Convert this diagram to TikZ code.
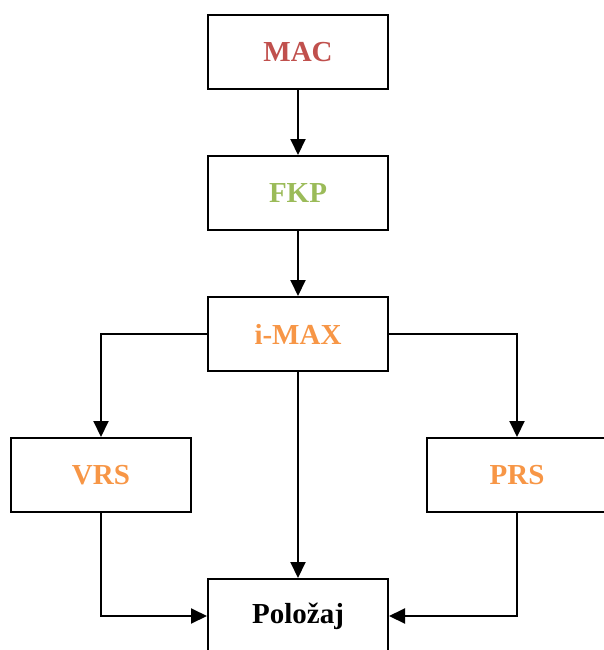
\documentclass[tikz,border=0pt]{standalone}
\usepackage{fontspec}
\setmainfont{Liberation Serif}
\usetikzlibrary{positioning,arrows.meta}
\definecolor{macred}{HTML}{C0504D}
\definecolor{fkpgreen}{HTML}{9BBB59}
\definecolor{rsorange}{HTML}{F79646}
\tikzset{box/.style={draw,line width=2pt,minimum width=180pt,minimum height=74pt,
    font=\fontsize{29}{34}\selectfont\bfseries}}

\begin{document}
\begin{tikzpicture}[node distance=65pt,>={Triangle[length=16pt,width=15pt]},
    link/.style={->,line width=2pt}]
        \useasboundingbox (0,0) rectangle (604pt,-650pt);
        \node[box,text=macred] (mac) at (298pt,-52pt) {MAC};
        \node[box,text=fkpgreen,below=of mac] (fkp) {FKP};
        \node[box,text=rsorange,below=of fkp] (imax) {i-MAX};
        \node[box,text=rsorange,below=of imax,xshift=-197pt] (vrs) {VRS};
        \node[box,text=rsorange,below=of imax,xshift=219pt] (prs) {PRS};
        \node[box,below=of vrs,xshift=197pt] (pol) {Položaj};

        \draw[link] (mac) -- (fkp);
        \draw[link] (fkp) -- (imax);
        \draw[link] (imax.west) -| (vrs.north);
        \draw[link] (imax.east) -| (prs.north);
        \draw[link] (imax) -- (pol);
        \draw[link] (vrs.south) |- (pol.west);
        \draw[link] (prs.south) |- (pol.east);
    \end{tikzpicture}
\end{document}
